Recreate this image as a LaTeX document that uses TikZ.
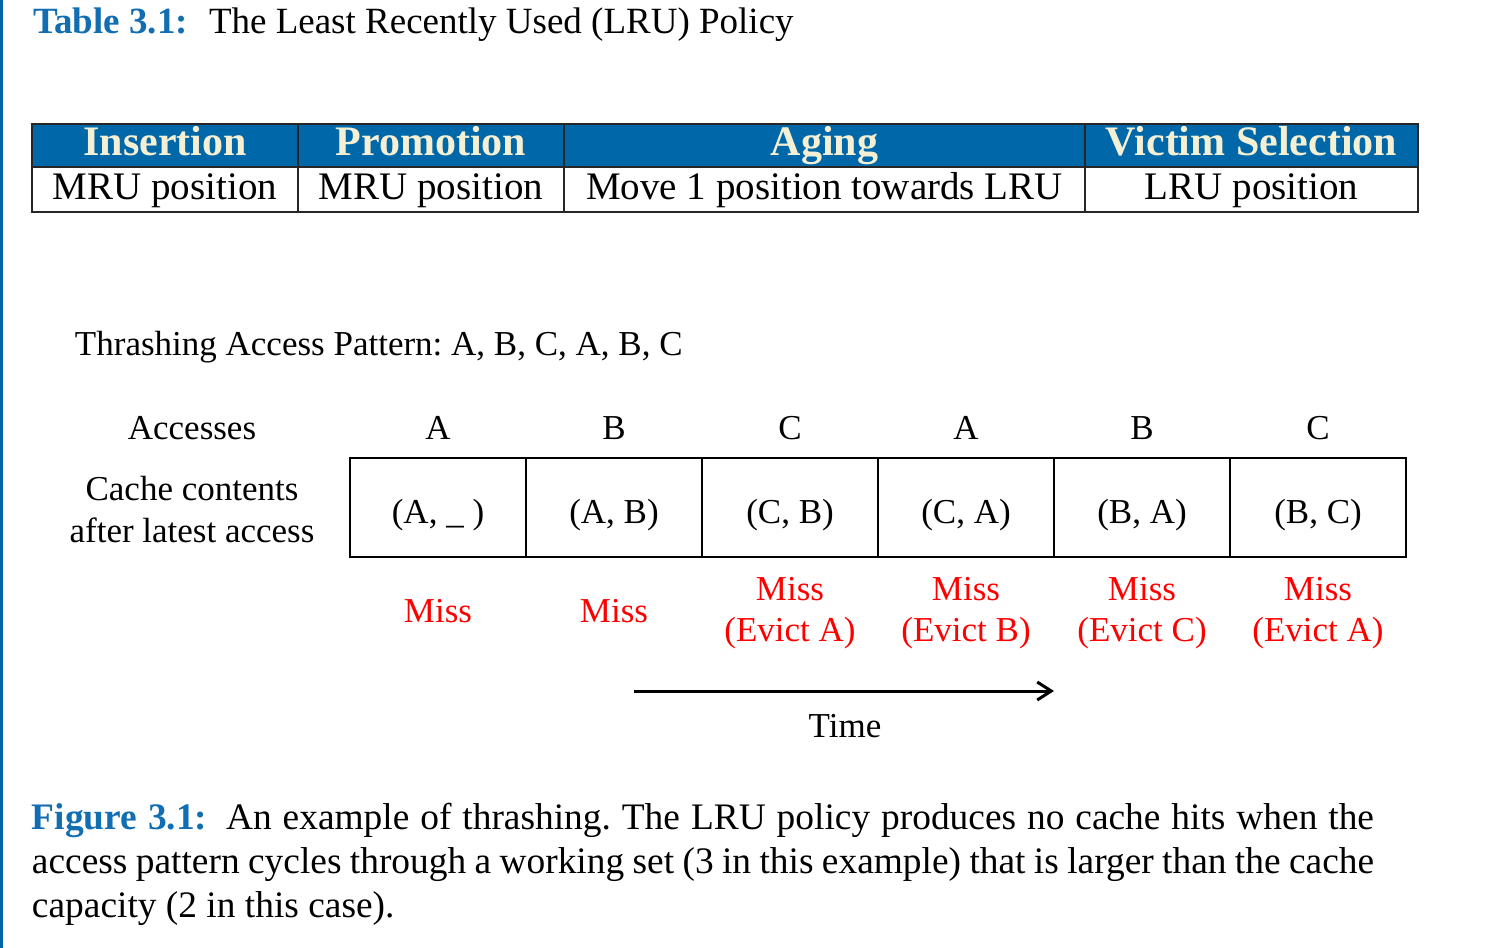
\documentclass[tikz,border=0pt]{standalone}
\usepackage{fontspec}
\setmainfont{Liberation Serif}
\usetikzlibrary{arrows.meta}
\definecolor{hdrblue}{RGB}{0,103,168}
\definecolor{capblue}{RGB}{18,110,178}
\definecolor{cream}{RGB}{245,240,212}
\definecolor{missred}{RGB}{255,0,0}
\frenchspacing
\begin{document}
\begin{tikzpicture}[x=0.5pt,y=-0.5pt,
  every node/.style={inner sep=0pt, outer sep=0pt},
  titlefont/.style={font=\fontsize{18.5}{22}\selectfont},
  diag/.style={font=\fontsize{17.5}{21}\selectfont},
  hcell/.style={draw=black!85, line width=0.9pt, fill=hdrblue, text=cream,
    font=\bfseries\fontsize{21}{25}\selectfont,
    minimum height=21.5pt, text height=13.5pt, text depth=3.5pt},
  bcell/.style={draw=black!85, line width=0.9pt, font=\fontsize{19.5}{23}\selectfont,
    minimum height=22.5pt, text height=13pt, text depth=3.5pt},
  cachebox/.style={draw=black, line width=1pt, minimum width=88pt, minimum height=49.5pt,
    text height=16pt, text depth=0.5pt, diag},
  misslbl/.style={text=missred, diag, anchor=base},
  plain/.style={diag, anchor=base},
  capline/.style={font=\fontsize{18.7}{22}\selectfont, anchor=base west},
  timearrow/.style={line width=1.5pt, -{Straight Barb[length=7pt,width=9pt,line width=1.5pt]}}
]
\useasboundingbox (0,0) rectangle (1495,948);
\fill[hdrblue] (0,0) rectangle (3,948);

% title
\node[titlefont, anchor=base west, text=capblue, font=\bfseries\fontsize{18.5}{22}\selectfont] (tabnum) at (33,33) {Table 3.1:};
\node[titlefont, anchor=base west] (tabtitle) at (209,33) {The Least Recently Used (LRU) Policy};

% policy table
\node[hcell, minimum width=133pt] (h1) at (165,145.5) {Insertion};
\node[hcell, minimum width=133pt] (h2) at (431,145.5) {Promotion};
\node[hcell, minimum width=260.5pt] (h3) at (824.5,145.5) {Aging};
\node[hcell, minimum width=166.5pt] (h4) at (1251.5,145.5) {Victim Selection};
\node[bcell, minimum width=133pt] (b1) at (165,189.5) {MRU position};
\node[bcell, minimum width=133pt] (b2) at (431,189.5) {MRU position};
\node[bcell, minimum width=260.5pt] (b3) at (824.5,189.5) {Move 1 position towards LRU};
\node[bcell, minimum width=166.5pt] (b4) at (1251.5,189.5) {LRU position};

% pattern
\node[diag, anchor=base west] (pattern) at (75,355) {Thrashing Access Pattern: A, B, C, A, B, C};

\node[plain] (accesses) at (192,439) {Accesses};
\node[plain] (acc1) at (438,439) {A};
\node[plain] (acc2) at (614,439) {B};
\node[plain] (acc3) at (790,439) {C};
\node[plain] (acc4) at (966,439) {A};
\node[plain] (acc5) at (1142,439) {B};
\node[plain] (acc6) at (1318,439) {C};

\node[plain] (cc1) at (192,500) {Cache contents};
\node[plain] (cc2) at (192,542) {after latest access};

\node[cachebox] (box1) at (438,507.5) {(A, \_ )};
\node[cachebox] (box2) at (614,507.5) {(A, B)};
\node[cachebox] (box3) at (790,507.5) {(C, B)};
\node[cachebox] (box4) at (966,507.5) {(C, A)};
\node[cachebox] (box5) at (1142,507.5) {(B, A)};
\node[cachebox] (box6) at (1318,507.5) {(B, C)};

\node[misslbl] (m1) at (438,622) {Miss};
\node[misslbl] (m2) at (614,622) {Miss};
\node[misslbl] (m3a) at (790,600) {Miss};
\node[misslbl] (m3b) at (790,641) {(Evict A)};
\node[misslbl] (m4a) at (966,600) {Miss};
\node[misslbl] (m4b) at (966,641) {(Evict B)};
\node[misslbl] (m5a) at (1142,600) {Miss};
\node[misslbl] (m5b) at (1142,641) {(Evict C)};
\node[misslbl] (m6a) at (1318,600) {Miss};
\node[misslbl] (m6b) at (1318,641) {(Evict A)};

% time arrow
\coordinate (tstart) at (634,691);
\coordinate (tend) at (1054,691);
\draw[timearrow] (tstart) -- (tend);
\node[plain] (time) at (845,737) {Time};

% caption
\node[capline] (cap1) at (32,829) {\makebox[671pt][s]{\textcolor{capblue}{\bfseries Figure 3.1:}\hspace{0.5em}An example of thrashing. The LRU policy produces no cache hits when the}};
\node[capline] (cap2) at (32,873) {\makebox[671pt][s]{access pattern cycles through a working set (3 in this example) that is larger than the cache}};
\node[capline] (cap3) at (32,917) {capacity (2 in this case).};
\end{tikzpicture}
\end{document}
